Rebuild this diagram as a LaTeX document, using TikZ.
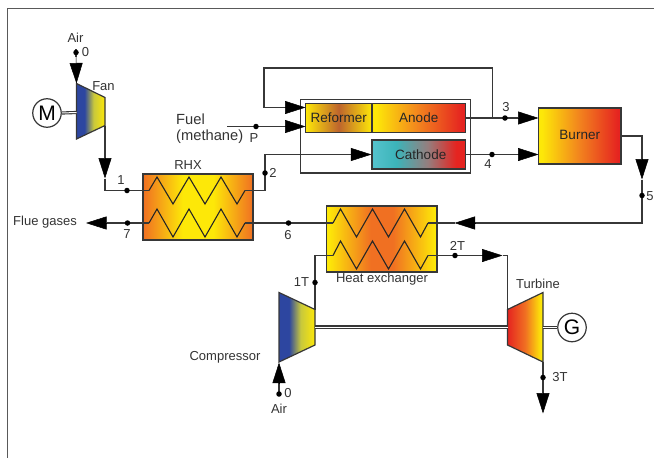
\documentclass[tikz,border=0pt]{standalone}
\usepackage{fontspec}
\setmainfont{Liberation Sans}
\usetikzlibrary{arrows.meta}
\definecolor{ink}{RGB}{55,55,55}
\definecolor{gblue}{RGB}{45,70,160}
\definecolor{gyel}{RGB}{253,232,8}
\definecolor{gorg}{RGB}{240,112,34}
\definecolor{gred}{RGB}{229,36,32}
\definecolor{gbrown}{RGB}{190,100,45}
\definecolor{gteal}{RGB}{85,195,205}
\definecolor{gteal2}{RGB}{60,180,185}
\definecolor{ggrey}{RGB}{150,125,125}
\definecolor{golive}{RGB}{200,200,60}
\pgfdeclarehorizontalshading{rhxshade}{100bp}{color(0bp)=(gorg);color(25bp)=(gorg);color(43bp)=(gyel);color(57bp)=(gyel);color(75bp)=(gorg);color(100bp)=(gorg)}
\pgfdeclarehorizontalshading{hxshade}{100bp}{color(0bp)=(gyel);color(26bp)=(gyel);color(45bp)=(gorg);color(55bp)=(gorg);color(74bp)=(gyel);color(100bp)=(gyel)}
\pgfdeclarehorizontalshading{refshade}{100bp}{color(0bp)=(gyel);color(25bp)=(gyel);color(50bp)=(gbrown);color(75bp)=(gyel);color(100bp)=(gyel)}
\pgfdeclarehorizontalshading{hotshade}{100bp}{color(0bp)=(gyel);color(27bp)=(gyel);color(50bp)=(gorg!85!gyel);color(73bp)=(gred);color(100bp)=(gred)}
\pgfdeclarehorizontalshading{cathshade}{100bp}{color(0bp)=(gteal);color(25bp)=(gteal);color(38bp)=(gteal2);color(55bp)=(ggrey);color(70bp)=(gred);color(100bp)=(gred)}
\pgfdeclarehorizontalshading{compshade}{100bp}{color(0bp)=(gblue);color(25bp)=(gblue);color(39bp)=(gblue);color(55bp)=(golive);color(75bp)=(gyel);color(100bp)=(gyel)}
\pgfdeclarehorizontalshading{turbshade}{100bp}{color(0bp)=(gred);color(25bp)=(gred);color(50bp)=(gorg);color(72bp)=(gyel);color(100bp)=(gyel)}
\tikzset{
  flow/.style={draw=ink,line width=1.1pt,line join=miter},
  unitbox/.style={draw=ink,line width=1.2pt,inner sep=0pt,font=\fontsize{13.5}{15}\selectfont,text=black!85},
  head/.style={draw=black,line width=0.5pt,-{Triangle[length=20.5pt,width=13pt]}},
  coil/.style={draw=black!85,line width=1.1pt,line join=miter},
  dotpt/.style={circle,fill=black,inner sep=0pt,minimum size=5.5pt},
  lab/.style={inner sep=0pt,font=\fontsize{13}{15}\selectfont,text=black!80},
  shaft/.style={draw=ink,line width=3.2pt,postaction={draw=white,line width=1pt}},
  machine/.style={circle,draw=ink,line width=1.2pt,fill=white,inner sep=0pt,minimum size=28.5pt,font=\fontsize{21}{23}\selectfont},
  trap/.style={draw=ink,line width=1.2pt,line join=miter},
}
\begin{document}
\begin{tikzpicture}[x=1pt,y=-1pt]
\useasboundingbox (0,0) rectangle (654,458);
% frame
\coordinate (fa) at (7.5,458);
\coordinate (fb) at (7.5,8.5);
\coordinate (fc) at (654,8.5);
\draw[draw=black!65,line width=1pt] (fa) -- (fb) -- (fc);

% boxes
\node[unitbox,shading=rhxshade,minimum width=110pt,minimum height=66pt] (rhx) at (198,207) {};
\node[unitbox,shading=hxshade,minimum width=110.5pt,minimum height=66pt] (hx) at (381.75,239) {};
\node[draw=ink,line width=1.2pt,minimum width=170pt,minimum height=73.5pt,inner sep=0pt] (stack) at (385.5,136.25) {};
\node[unitbox,shading=refshade,minimum width=66.5pt,minimum height=29pt] (reformer) at (338.75,118) {Reformer};
\node[unitbox,shading=hotshade,minimum width=93.5pt,minimum height=29pt] (anode) at (418.75,118) {Anode};
\node[unitbox,shading=cathshade,minimum width=93.5pt,minimum height=29pt] (cathode) at (418.75,154.5) {\hspace{4pt}Cathode};
\node[unitbox,shading=hotshade,minimum width=82.5pt,minimum height=56pt] (burner) at (579.75,136) {\raisebox{2pt}{Burner}};

% turbomachines
\coordinate (fanA) at (76.5,83.5);
\coordinate (fanB) at (105,97.5);
\coordinate (fanC) at (105,125.5);
\coordinate (fanD) at (76.5,139);
\path[trap,shading=compshade] (fanA) -- (fanB) -- (fanC) -- (fanD) -- cycle;
\coordinate (cpA) at (279,292.5);
\coordinate (cpB) at (315,309.5);
\coordinate (cpC) at (315,345);
\coordinate (cpD) at (279,362);
\path[trap,shading=compshade] (cpA) -- (cpB) -- (cpC) -- (cpD) -- cycle;
\coordinate (tbA) at (507.5,309.5);
\coordinate (tbB) at (543,292.5);
\coordinate (tbC) at (543,362);
\coordinate (tbD) at (507.5,345);
\path[trap,shading=turbshade] (tbA) -- (tbB) -- (tbC) -- (tbD) -- cycle;

% machines and shafts
\node[machine] (motor) at (47,113) {M};
\node[machine] (gen) at (572,327.5) {G};
\coordinate (fanS) at (76.5,112.5);
\coordinate (cpS) at (315,327);
\coordinate (tbS) at (507.5,327);
\coordinate (tbR) at (543,327.5);
\draw[shaft] (motor.east) -- (fanS);
\draw[shaft] (cpS) -- (tbS);
\draw[shaft] (tbR) -- (gen.west);

% coils
\coordinate (r1i) at (149,190.5);
\coordinate (r1o) at (245,190.5);
\coordinate (r2i) at (149,223);
\coordinate (r2o) at (245,223);
\coordinate (h1i) at (333,223);
\coordinate (h1o) at (428,223);
\coordinate (h2i) at (333,255.5);
\coordinate (h2o) at (428,255.5);
\draw[coil] (r1i) -- (157,177) -- (173,204) -- (189,177) -- (205,204) -- (221,177) -- (237,204) -- (r1o);
\draw[coil] (r2i) -- (157,209) -- (173,237) -- (189,209) -- (205,237) -- (221,209) -- (237,237) -- (r2o);
\draw[coil] (h1i) -- (340.5,209) -- (356.5,237) -- (372.5,209) -- (388.5,237) -- (404.5,209) -- (420.5,237) -- (h1o);
\draw[coil] (h2i) -- (340.5,241) -- (356.5,269) -- (372.5,241) -- (388.5,269) -- (404.5,241) -- (420.5,269) -- (h2o);

% free ends and bends
\coordinate (air0) at (76,49);
\coordinate (airb) at (76,57);
\coordinate (fanin) at (76.5,83.5);
\coordinate (fanout) at (105,125.5);
\coordinate (a1b) at (105,158);
\coordinate (a1t) at (105,178.5);
\coordinate (a1c) at (105,190.5);
\coordinate (flueb) at (107,223);
\coordinate (fluet) at (86,223);
\coordinate (fuelstart) at (227,126.5);
\coordinate (fuelb) at (285,126.5);
\coordinate (fuelt) at (305.5,126.5);
\coordinate (loopa) at (492.5,118);
\coordinate (loopb) at (492.5,68);
\coordinate (loopc) at (264,68);
\coordinate (loopd) at (264,107.5);
\coordinate (loopb2) at (285,107.5);
\coordinate (loopt) at (305.5,107.5);
\coordinate (p2up) at (265,190.5);
\coordinate (p2top) at (265,154.5);
\coordinate (cathb) at (352,154.5);
\coordinate (burn3b) at (518,118);
\coordinate (burn3t) at (538.5,118);
\coordinate (burn4b) at (518,154.5);
\coordinate (burn4t) at (538.5,154.5);
\coordinate (bout) at (642,136);
\coordinate (a5b) at (642,159);
\coordinate (a5t) at (642,179.5);
\coordinate (bdown) at (642,223);
\coordinate (a6b) at (475,223);
\coordinate (a6t) at (454.5,223);
\coordinate (h2up) at (315,255.5);
\coordinate (t2b) at (482,255.5);
\coordinate (t2t) at (502.5,255.5);
\coordinate (t2r) at (507.5,255.5);
\coordinate (cairb) at (279,383);
\coordinate (cairt) at (279,362.5);
\coordinate (cair0) at (279,396);
\coordinate (t3) at (543,393);
\coordinate (t3t) at (543,413.5);

% connectors
\draw[flow] (air0) -- (airb);
\draw[head] (airb) -- (fanin);
\draw[flow] (fanout) -- (a1b);
\draw[head] (a1b) -- (a1t);
\draw[flow] (a1t) -- (a1c) -- (r1i);
\draw[flow] (r1o) -- (p2up) -- (p2top) -- (cathb);
\draw[head] (cathb) -- (cathode.west);
\draw[flow] (r2i) -- (flueb);
\draw[head] (flueb) -- (fluet);
\draw[flow] (r2o) -- (h1i);
\draw[flow] (fuelstart) -- (fuelb);
\draw[head] (fuelb) -- (fuelt);
\draw[flow] (loopa) -- (loopb) -- (loopc) -- (loopd) -- (loopb2);
\draw[head] (loopb2) -- (loopt);
\draw[flow] (anode.east) -- (burn3b);
\draw[head] (burn3b) -- (burn3t);
\draw[flow] (cathode.east) -- (burn4b);
\draw[head] (burn4b) -- (burn4t);
\draw[flow] (burner.east) -- (bout) -- (a5b);
\draw[head] (a5b) -- (a5t);
\draw[flow] (a5t) -- (bdown) -- (a6b);
\draw[head] (a6b) -- (a6t);
\draw[flow] (a6t) -- (h1o);
\draw[flow] (h2i) -- (h2up) -- (cpB);
\draw[flow] (h2o) -- (t2b);
\draw[head] (t2b) -- (t2t);
\draw[flow] (t2t) -- (t2r) -- (tbA);
\draw[flow] (cair0) -- (cairb);
\draw[head] (cairb) -- (cairt);
\draw[flow] (tbC) -- (t3);
\draw[head] (t3) -- (t3t);

% dots
\node[dotpt] (d0) at (76,52.5) {};
\node[dotpt] (d1) at (127,190.5) {};
\node[dotpt] (d2) at (265,173) {};
\node[dotpt] (d3) at (505,118) {};
\node[dotpt] (d4) at (492,154.5) {};
\node[dotpt] (d5) at (642,195.5) {};
\node[dotpt] (d6) at (288.5,223) {};
\node[dotpt] (d7) at (127.5,223) {};
\node[dotpt] (dP) at (256,126.5) {};
\node[dotpt] (d1T) at (315,282.5) {};
\node[dotpt] (d2T) at (455,255.5) {};
\node[dotpt] (d3T) at (543,377.5) {};
\node[dotpt] (dc0) at (279,394) {};

% labels
\node[lab] (lAir) at (75.5,38) {Air};
\node[lab] (l0) at (85.5,52.5) {0};
\node[lab] (lFan) at (103.5,86) {Fan};
\node[lab] (l1) at (121,180) {1};
\node[lab] (l2) at (273,173) {2};
\node[lab] (lRHX) at (188,165.5) {RHX};
\node[lab] (l7) at (127,234.5) {7};
\node[lab] (l6) at (288,235) {6};
\node[lab] (lFlue) at (45,222) {Flue gases};
\node[lab,font=\fontsize{14.7}{17}\selectfont,anchor=west] (lFuel) at (176,119) {Fuel};
\node[lab,font=\fontsize{14.7}{17}\selectfont,anchor=west] (lMeth) at (176,137) {(methane)};
\node[lab] (lP) at (254,138) {P};
\node[lab] (l3) at (506,107) {3};
\node[lab] (l4) at (488,164) {4};
\node[lab] (l5) at (650,196) {5};
\node[lab] (lHX) at (382,279.5) {Heat exchanger};
\node[lab] (l1T) at (301.5,282.5) {1T};
\node[lab] (l2T) at (457.5,245.5) {2T};
\node[lab] (lTurb) at (538,284) {Turbine};
\node[lab] (lComp) at (225,357) {Compressor};
\node[lab] (l0b) at (288,393) {0};
\node[lab] (lAirb) at (279,408.5) {Air};
\node[lab] (l3T) at (560,377.5) {3T};
\end{tikzpicture}
\end{document}
